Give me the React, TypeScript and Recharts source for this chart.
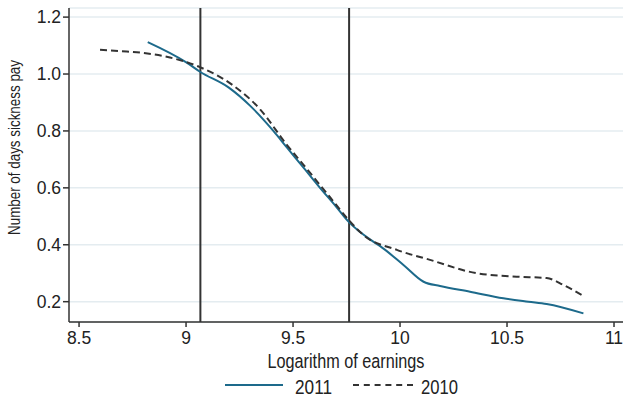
import React from 'react';
import { LineChart, Line, XAxis, YAxis, CartesianGrid, ReferenceLine, Legend } from 'recharts';

const x2011 = [8.821, 9.003, 9.065, 9.2, 9.3, 9.408, 9.47, 9.55, 9.626, 9.7, 9.758, 9.875, 9.907, 10.016, 10.11, 10.187, 10.327, 10.483, 10.6, 10.685, 10.857];
const y2011 = [1.112, 1.04, 1.008, 0.952, 0.888, 0.8, 0.743, 0.67, 0.6, 0.535, 0.482, 0.411, 0.395, 0.329, 0.27, 0.255, 0.235, 0.212, 0.2, 0.192, 0.159];
const x2010 = [8.598, 8.723, 8.8, 8.925, 9.065, 9.22, 9.346, 9.47, 9.55, 9.626, 9.673, 9.758, 9.829, 9.985, 10.14, 10.358, 10.545, 10.685, 10.763, 10.857];
const y2010 = [1.085, 1.079, 1.074, 1.058, 1.024, 0.96, 0.876, 0.752, 0.68, 0.61, 0.567, 0.489, 0.434, 0.382, 0.347, 0.3, 0.288, 0.283, 0.259, 0.22];
const xTicks = [8.5, 9, 9.5, 10, 10.5, 11];
const yTicks = [0.2, 0.4, 0.6, 0.8, 1.0, 1.2];
const cutoffs = [9.067, 9.762];
const seriesNames = ['2011', '2010'];

const d2011 = x2011.map((x, i) => ({ x, y: y2011[i] }));
const d2010 = x2010.map((x, i) => ({ x, y: y2010[i] }));

const FONT = '"Liberation Sans", Arial, sans-serif';
const BLUE = '#1d6a8b';
const DARK = '#333333';
const TEXT = '#222222';

const LegendContent = () => (
  <div style={{ position: 'relative', width: 623, height: 28 }}>
    <svg width={623} height={28} style={{ position: 'absolute', left: 0, top: 0 }}>
      <line x1={225} x2={283} y1={15} y2={15} stroke={BLUE} strokeWidth={2} />
      <text x={295} y={24} fontFamily={FONT} fontSize={20} fill={TEXT} textLength={37} lengthAdjust="spacingAndGlyphs">{seriesNames[0]}</text>
      <line x1={353} x2={413} y1={15} y2={15} stroke={DARK} strokeWidth={2} strokeDasharray="6 4.8" />
      <text x={421} y={24} fontFamily={FONT} fontSize={20} fill={TEXT} textLength={37} lengthAdjust="spacingAndGlyphs">{seriesNames[1]}</text>
    </svg>
  </div>
);

export default function App() {
  return (
    <div style={{ position: 'absolute', left: 0, top: 0, width: 623, height: 398, background: '#fff' }}>
      <LineChart width={623} height={398} margin={{ top: 8, right: 0, bottom: 0, left: 0 }}>
        <CartesianGrid vertical={false} stroke="#e4ecf0" strokeWidth={1.5} />
        <XAxis
          dataKey="x"
          type="number"
          domain={[8.453, 11.042]}
          ticks={xTicks}
          allowDataOverflow
          height={48}
          stroke={DARK}
          strokeWidth={1.5}
          tickSize={5}
          tickMargin={5}
          tick={{ fill: TEXT, fontFamily: FONT, fontSize: 17.5 }}
          label={() => (
            <text x={346} y={368} textAnchor="middle" fontFamily={FONT} fontSize={20.5} fill={TEXT} textLength={157} lengthAdjust="spacingAndGlyphs">
              Logarithm of earnings
            </text>
          )}
        />
        <YAxis
          type="number"
          domain={[0.1286, 1.232]}
          ticks={yTicks}
          allowDataOverflow
          width={69}
          stroke={DARK}
          strokeWidth={1.5}
          tickSize={6}
          tickMargin={2}
          tickFormatter={(v: number) => v.toFixed(1)}
          tick={{ fill: TEXT, fontFamily: FONT, fontSize: 17.5 }}
          label={() => (
            <text x={20} y={147.5} transform="rotate(-90 20 147.5)" textAnchor="middle" fontFamily={FONT} fontSize={16.5} fill={TEXT} textLength={175} lengthAdjust="spacingAndGlyphs">
              Number of days sickness pay
            </text>
          )}
        />
        {cutoffs.map((c) => (
          <ReferenceLine key={c} x={c} stroke={DARK} strokeWidth={2} ifOverflow="extendDomain" />
        ))}
        <Line data={d2011} dataKey="y" name={seriesNames[0]} type="monotone" stroke={BLUE} strokeWidth={2} dot={false} isAnimationActive={false} />
        <Line data={d2010} dataKey="y" name={seriesNames[1]} type="monotone" stroke={DARK} strokeWidth={2} strokeDasharray="7 4" dot={false} isAnimationActive={false} />
        <Legend verticalAlign="bottom" height={28} wrapperStyle={{ left: 0, width: 623, bottom: 0 }} content={LegendContent} />
      </LineChart>
    </div>
  );
}
